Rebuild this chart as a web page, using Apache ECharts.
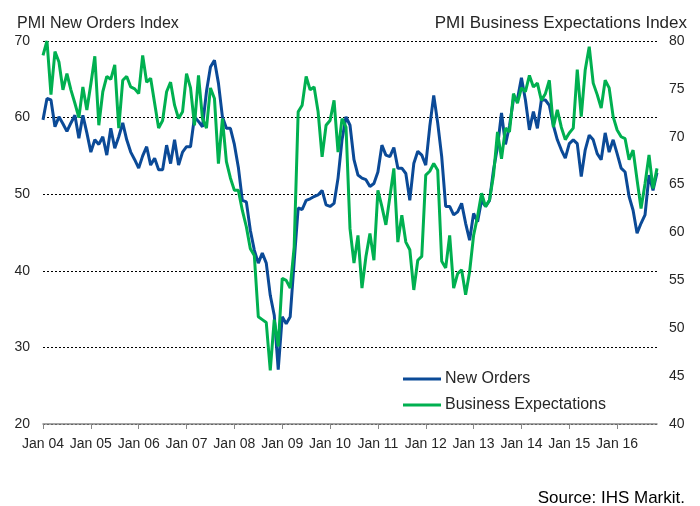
<!DOCTYPE html>
<html>
<head>
<meta charset="utf-8">
<style>
  html, body { margin: 0; padding: 0; background: #fff; }
  #main { width: 700px; height: 506px; }
</style>
<script src="https://cdn.jsdelivr.net/npm/echarts@6/dist/echarts.min.js"></script>
</head>
<body>
<div id="main"></div>
<script>
// monthly readings, Jan 2004 .. Nov 2016
const firstYear = 2004;
const monthNames = ["Jan", "Feb", "Mar", "Apr", "May", "Jun", "Jul", "Aug", "Sep", "Oct", "Nov", "Dec"];

const newOrders = [
  59.7, 62.5, 62.3, 58.8, 60.1, 59.2, 58.2, 59.3, 60.3, 57.3, 60.3, 58.0,
  55.5, 57.1, 56.5, 57.5, 55.1, 58.6, 56.0, 57.5, 59.3, 57.1, 55.5, 54.5,
  53.4, 55.0, 56.2, 53.8, 54.7, 53.2, 53.2, 56.4, 54.0, 57.1, 53.8, 55.5,
  56.2, 56.2, 60.1, 59.5, 58.8, 63.4, 66.6, 67.5, 64.5, 60.1, 58.6, 58.6,
  56.5, 53.5, 49.2, 49.0, 45.3, 42.7, 41.0, 42.3, 41.0, 36.8, 34.2, 27.1,
  34.0, 33.1, 34.0, 41.2, 48.2, 48.0, 49.2, 49.4, 49.7, 49.9, 50.5, 48.6,
  48.4, 48.8, 52.1, 57.1, 60.1, 59.0, 54.5, 52.5, 52.1, 51.9, 51.0, 51.4,
  52.9, 56.4, 55.1, 54.9, 56.1, 53.4, 53.4, 52.7, 49.2, 54.0, 55.6, 55.1,
  53.8, 58.8, 62.9, 59.3, 54.9, 48.4, 48.4, 47.3, 47.7, 48.8, 46.2, 44.0,
  47.5, 46.4, 49.2, 48.4, 49.2, 53.2, 56.2, 60.6, 56.5, 58.9, 62.4, 62.4,
  65.2, 62.3, 58.4, 60.8, 58.6, 62.3, 62.3, 61.6, 59.0, 57.1, 55.8, 54.7,
  56.6, 57.1, 56.6, 52.3, 55.8, 57.7, 57.1, 55.3, 54.5, 58.0, 55.5, 57.1,
  55.3, 53.4, 52.9, 49.7, 47.9, 44.9, 46.2, 47.3, 52.5, 50.5, 52.8
];

const businessExpectations = [
  78.5, 80.0, 74.4, 78.9, 77.8, 74.9, 76.6, 74.9, 73.5, 72.0, 75.2, 72.8,
  75.5, 78.4, 71.2, 74.7, 76.3, 76.0, 77.5, 70.9, 75.9, 76.3, 75.2, 75.0,
  74.5, 78.5, 75.7, 76.1, 73.5, 70.9, 71.7, 74.7, 75.7, 73.3, 71.9, 72.6,
  76.6, 75.1, 71.2, 76.4, 71.9, 70.9, 75.1, 74.0, 67.2, 71.9, 67.4, 65.7,
  64.4, 64.4, 62.3, 60.6, 58.3, 57.6, 51.2, 50.9, 50.6, 45.6, 50.9, 48.1,
  55.2, 55.0, 54.2, 58.5, 72.6, 73.3, 76.3, 74.9, 75.2, 72.6, 67.9, 71.2,
  71.7, 73.8, 68.4, 71.9, 71.0, 60.4, 56.8, 59.7, 54.2, 57.5, 59.9, 57.1,
  64.4, 62.7, 60.8, 63.7, 66.7, 59.0, 61.8, 59.0, 58.2, 54.0, 57.1, 57.5,
  66.0, 66.4, 67.2, 66.5, 57.0, 56.3, 59.7, 54.2, 55.7, 56.1, 53.5, 55.9,
  59.7, 61.7, 64.1, 62.7, 63.4, 66.0, 70.5, 67.7, 70.9, 70.5, 74.5, 73.5,
  75.1, 74.7, 76.4, 75.2, 75.6, 73.8, 74.5, 75.9, 71.0, 72.8, 71.0, 69.7,
  70.4, 70.9, 77.0, 72.1, 77.0, 79.4, 75.6, 74.4, 73.0, 75.9, 75.1, 72.1,
  70.7, 70.0, 69.8, 67.6, 68.6, 65.5, 62.5, 65.1, 68.1, 64.6, 66.7
];

const leftTicks = [20, 30, 40, 50, 60, 70];
const rightTicks = [40, 45, 50, 55, 60, 65, 70, 75, 80];

const months = [];
for (let i = 0; i < newOrders.length; i++) {
  const yy = String((firstYear + Math.floor(i / 12)) % 100).padStart(2, "0");
  months.push(monthNames[i % 12] + " " + yy);
}

const textColor = "#262626";
const font = "Liberation Sans, Arial, sans-serif";
const isJan = (i) => i % 12 === 0;

const chart = echarts.init(document.getElementById("main"));
chart.setOption({
  animation: false,
  textStyle: { fontFamily: font },
  title: [
    {
      text: "PMI New Orders Index",
      left: 12, top: 11,
      textStyle: { fontSize: 16, fontWeight: "normal", color: textColor, fontFamily: font },
    },
    {
      text: "PMI Business Expectations Index",
      right: 8, top: 10,
      textStyle: { fontSize: 17, fontWeight: "normal", color: textColor, fontFamily: font },
    },
    {
      text: "Source: IHS Markit.",
      right: 10, top: 485,
      textStyle: { fontSize: 17, fontWeight: "normal", color: "#000", fontFamily: font },
    },
  ],
  legend: {
    orient: "vertical",
    left: 398, top: 366,
    icon: "rect",
    itemWidth: 38, itemHeight: 3,
    itemGap: 10,
    textStyle: { fontSize: 16, color: textColor, fontFamily: font, padding: [0, 0, 0, -1] },
    data: ["New Orders", "Business Expectations"],
  },
  grid: { left: 43, right: 43, top: 41, bottom: 82 },
  xAxis: {
    type: "category",
    boundaryGap: false,
    data: months,
    axisLine: { lineStyle: { color: "#868686", width: 1.5 } },
    axisTick: { interval: isJan, length: 5, lineStyle: { color: "#868686" } },
    axisLabel: { interval: isJan, fontSize: 14, color: textColor, margin: 13, fontFamily: font },
    splitLine: { show: false },
  },
  yAxis: [
    {
      type: "value",
      min: leftTicks[0],
      max: leftTicks[leftTicks.length - 1],
      interval: leftTicks[1] - leftTicks[0],
      axisLine: { show: false },
      axisTick: { show: false },
      axisLabel: { fontSize: 14, color: textColor, margin: 13, fontFamily: font },
      splitLine: { lineStyle: { color: "#000", type: [2, 2], width: 1 } },
    },
    {
      type: "value",
      position: "right",
      min: rightTicks[0],
      max: rightTicks[rightTicks.length - 1],
      interval: rightTicks[1] - rightTicks[0],
      axisLine: { show: false },
      axisTick: { show: false },
      axisLabel: { fontSize: 14, color: textColor, margin: 12, fontFamily: font },
      splitLine: { show: false },
    },
  ],
  series: [
    {
      name: "New Orders",
      type: "line",
      data: newOrders,
      showSymbol: false,
      symbol: "none",
      color: "#0b4a97",
      lineStyle: { width: 3, color: "#0b4a97" },
    },
    {
      name: "Business Expectations",
      type: "line",
      yAxisIndex: 1,
      data: businessExpectations,
      showSymbol: false,
      symbol: "none",
      color: "#00b050",
      lineStyle: { width: 3, color: "#00b050" },
    },
  ],
});
</script>
</body>
</html>
